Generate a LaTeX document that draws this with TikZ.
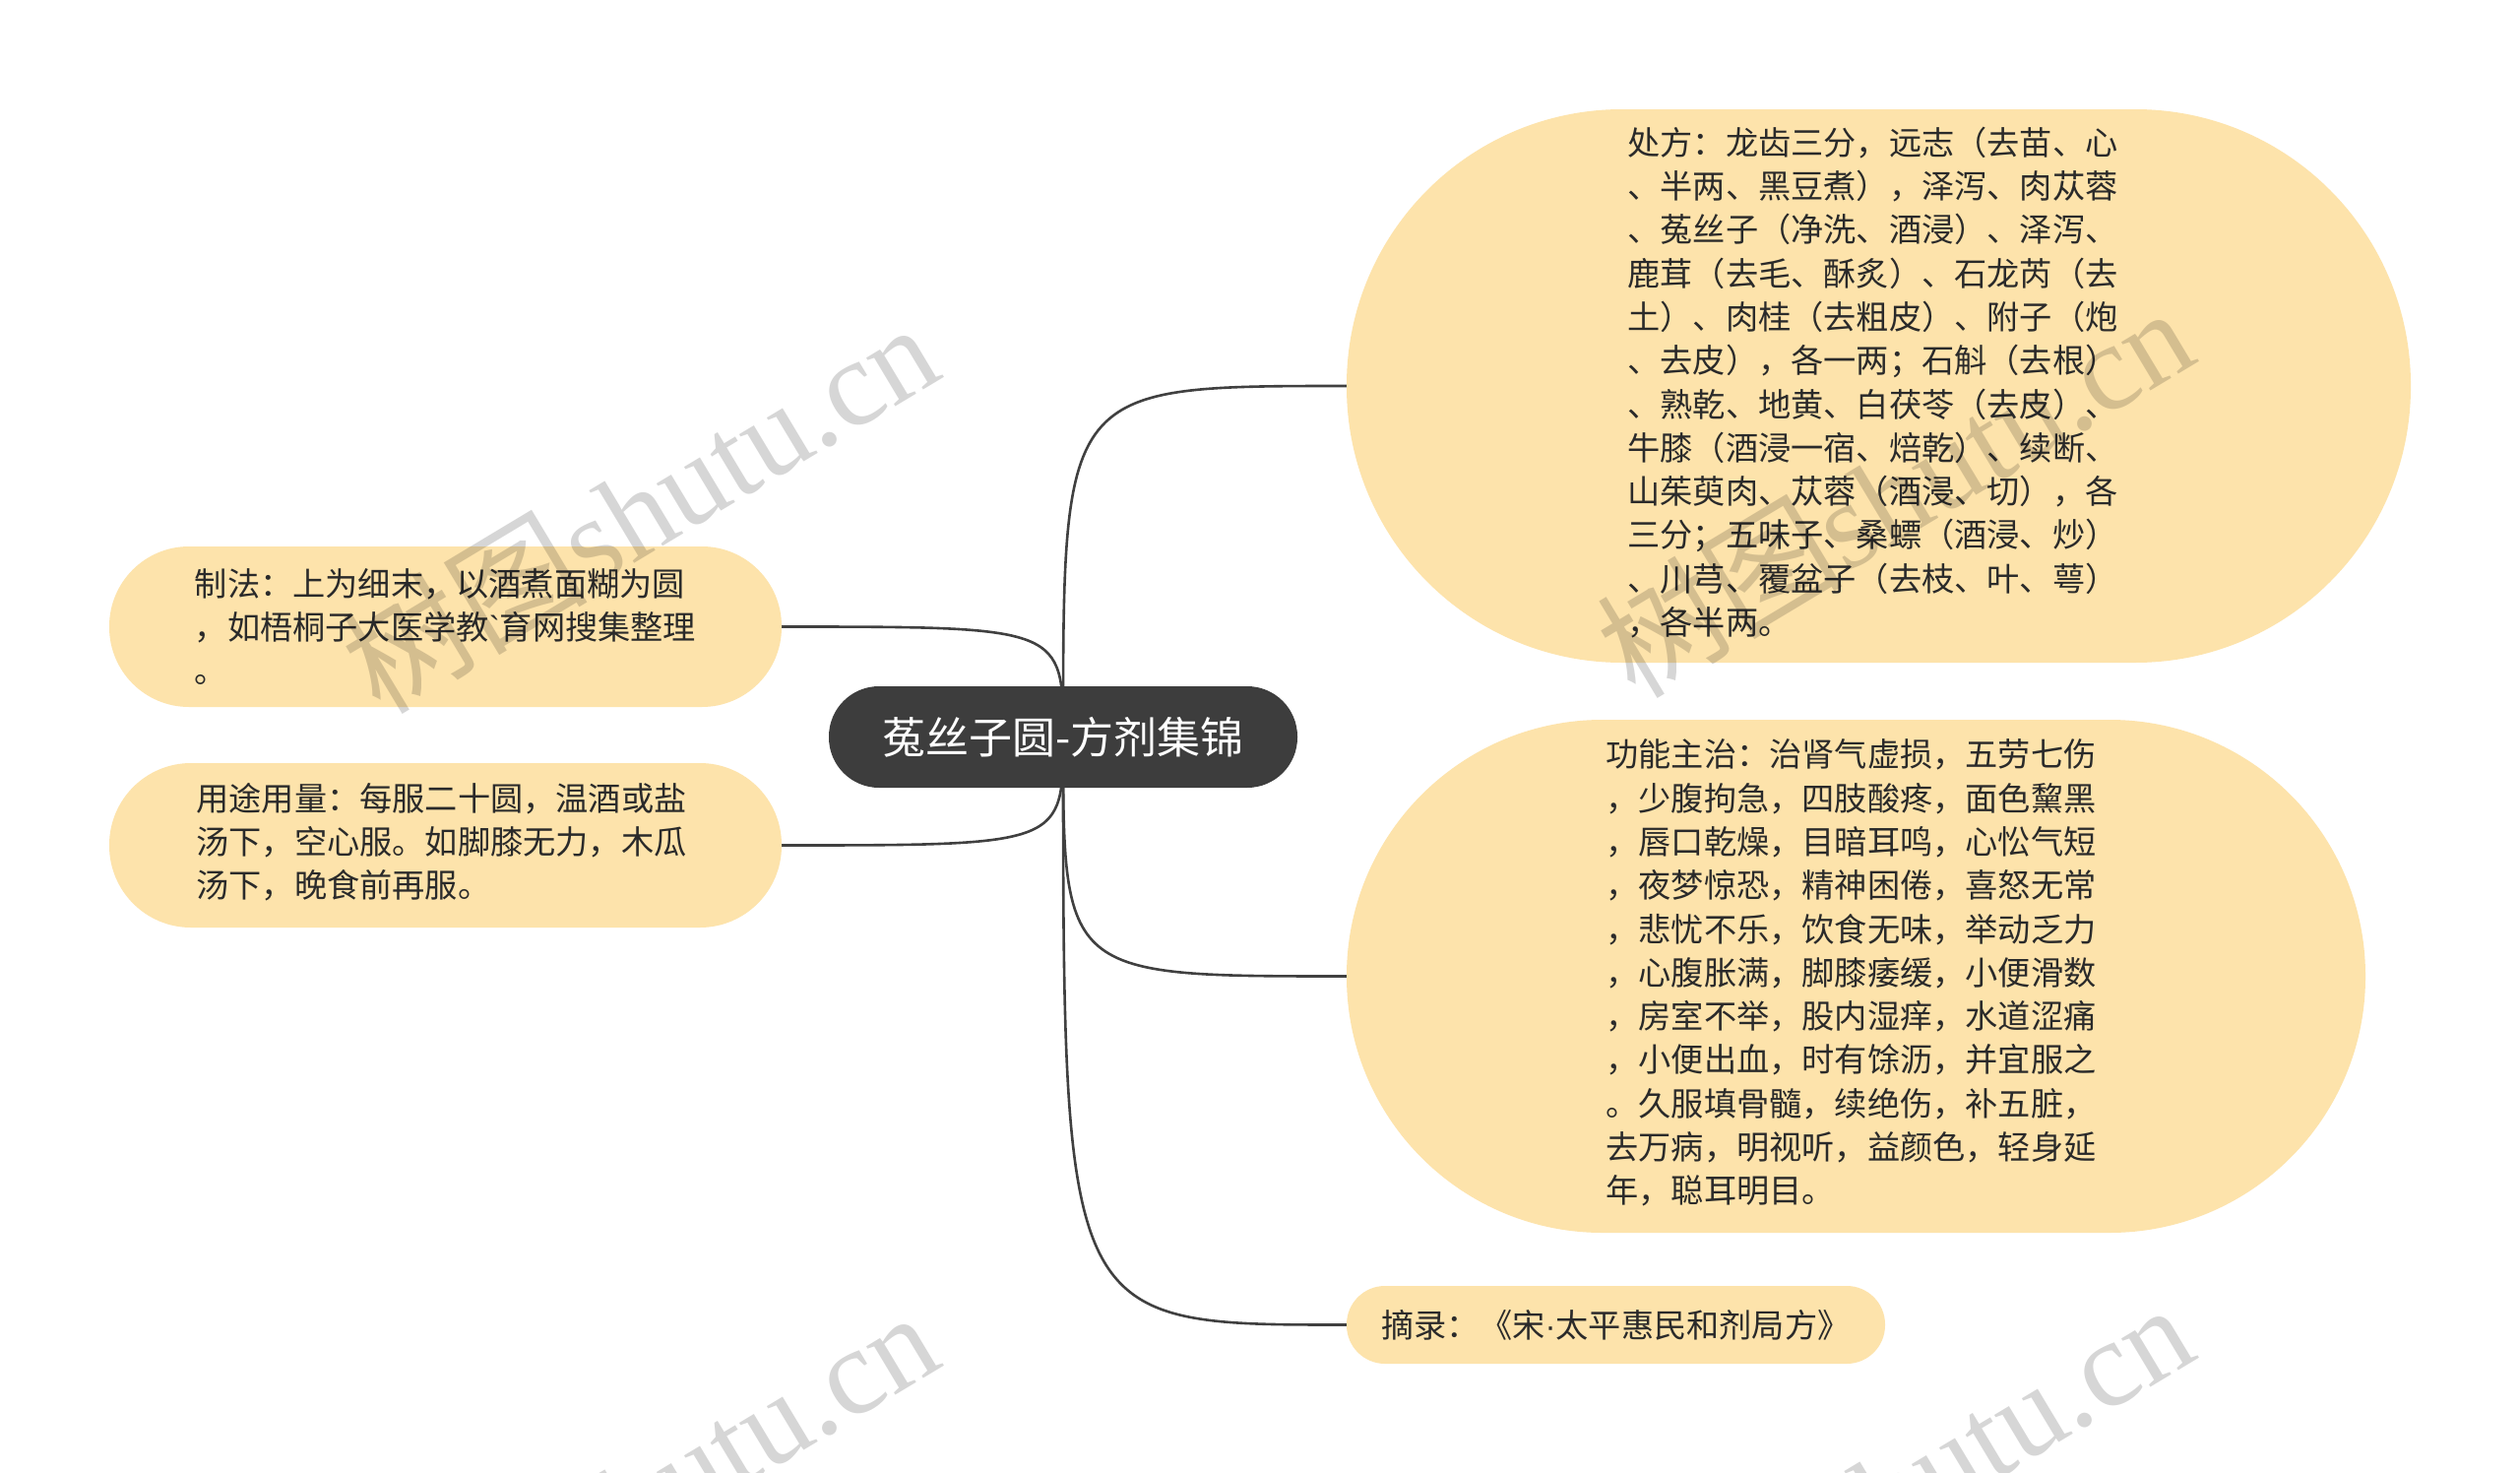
\documentclass[tikz,border=0pt]{standalone}
\usepackage{fontspec}
\setmainfont{Noto Sans CJK SC}
\newfontfamily\wmserif{Liberation Serif}
\newfontfamily\wmcjk{Noto Sans CJK SC}
\newfontfamily\latinsans{Liberation Sans}
\usetikzlibrary{backgrounds}
\definecolor{leaffill}{HTML}{FDE3AB}
\definecolor{rootfill}{HTML}{3D3D3D}
\definecolor{linecol}{HTML}{404040}
\definecolor{textcol}{HTML}{2A2A2A}
\begin{document}
\begin{tikzpicture}[x=1pt,y=-1pt,
  leaf/.style={fill=leaffill, draw=none, align=left, text=textcol,
    font=\fontsize{33.2}{44.3}\selectfont, inner sep=0pt},
  rootbox/.style={fill=rootfill, draw=none, text=white,
    font=\fontsize{44}{50}\selectfont, inner sep=0pt},
  conn/.style={draw=linecol, line width=2.6pt},
  wm/.style={rotate=31, text=black, text opacity=0.16, inner sep=0pt,
    font=\fontsize{125}{130}\selectfont}]
\useasboundingbox (0,0) rectangle (2560,1496);

\node[rootbox, minimum width=476pt, minimum height=103pt, rounded corners=51pt]
  (root) at (1080,748.5) {菟丝子圆-方剂集锦};

\node[leaf, minimum width=1081pt, minimum height=562pt, rounded corners=280pt]
  (rx) at (1908.5,392) {\hspace*{-12pt}\begin{tabular}{@{}l@{}}处方：龙齿三分，远志（去苗、心\\
、半两、黑豆煮），泽泻、肉苁蓉\\
、菟丝子（净洗、酒浸）、泽泻、\\
鹿茸（去毛、酥炙）、石龙芮（去\\
土）、肉桂（去粗皮）、附子（炮\\
、去皮），各一两；石斛（去根）\\
、熟乾、地黄、白茯苓（去皮）、\\
牛膝（酒浸一宿、焙乾）、续断、\\
山茱萸肉、苁蓉（酒浸、切），各\\
三分；五味子、桑螵（酒浸、炒）\\
、川芎、覆盆子（去枝、叶、萼）\\
，各半两。\end{tabular}};

\node[leaf, minimum width=1035pt, minimum height=521pt, rounded corners=260pt]
  (fn) at (1885.5,991.5) {\hspace*{-10pt}\begin{tabular}{@{}l@{}}功能主治：治肾气虚损，五劳七伤\\
，少腹拘急，四肢酸疼，面色黧黑\\
，唇口乾燥，目暗耳鸣，心忪气短\\
，夜梦惊恐，精神困倦，喜怒无常\\
，悲忧不乐，饮食无味，举动乏力\\
，心腹胀满，脚膝痿缓，小便滑数\\
，房室不举，股内湿痒，水道涩痛\\
，小便出血，时有馀沥，并宜服之\\
。久服填骨髓，续绝伤，补五脏，\\
去万病，明视听，益颜色，轻身延\\
年，聪耳明目。\end{tabular}};

\node[leaf, minimum width=547pt, minimum height=79pt, rounded corners=39pt]
  (src) at (1641.5,1345.5) {摘录：《宋{\latinsans ·}太平惠民和剂局方》};

\node[leaf, minimum width=683pt, minimum height=163pt, rounded corners=81pt]
  (make) at (452.5,636.5) {制法：上为细末，以酒煮面糊为圆\\
，如梧桐子大医学教{\latinsans\char96}育网搜集整理\\
。};

\node[leaf, minimum width=683pt, minimum height=167pt, rounded corners=83pt]
  (use) at (452.5,858.5) {\hspace*{-8pt}\begin{tabular}{@{}l@{}}用途用量：每服二十圆，温酒或盐\\
汤下，空心服。如脚膝无力，木瓜\\
汤下，晚食前再服。\end{tabular}};

\begin{scope}[on background layer]
\fill[white] (0,0) rectangle (2560,1496);
\draw[conn] (root.center) .. controls (root.center |- rx.west) .. (rx.west);
\draw[conn] (root.center) .. controls (root.center |- fn.west) .. (fn.west);
\draw[conn] (root.center) .. controls (root.center |- src.west) .. (src.west);
\draw[conn] (root.center) .. controls (root.center |- make.east) .. (make.east);
\draw[conn] (root.center) .. controls (root.center |- use.east) .. (use.east);
\end{scope}

\node[wm] (wm1) at (649,514) {{\wmcjk 树图}{\wmserif shutu.cn}};
\node[wm] (wm2) at (1924,498) {{\wmcjk 树图}{\wmserif shutu.cn}};
\node[wm] (wm3) at (649,1518) {{\wmcjk 树图}{\wmserif shutu.cn}};
\node[wm] (wm4) at (1924,1510) {{\wmcjk 树图}{\wmserif shutu.cn}};
\end{tikzpicture}
\end{document}
